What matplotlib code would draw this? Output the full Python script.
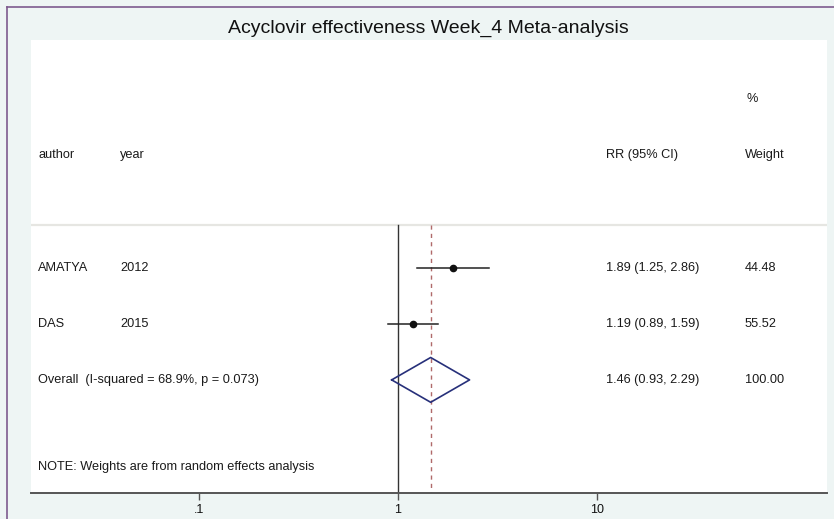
import matplotlib
matplotlib.use("Agg")
import matplotlib.pyplot as plt
from matplotlib.lines import Line2D
from matplotlib.transforms import blended_transform_factory

plt.rcParams['font.family'] = ['Liberation Sans', 'DejaVu Sans']

# ---- data ----
title = "Acyclovir effectiveness Week_4 Meta-analysis"
authors = ["AMATYA", "DAS"]
years = ["2012", "2015"]
rr = [1.89, 1.19]
ci_low = [1.25, 0.89]
ci_high = [2.86, 1.59]
weights = [44.48, 55.52]
overall_label = "Overall  (I-squared = 68.9%, p = 0.073)"
overall_rr = 1.46
overall_low = 0.93
overall_high = 2.29
overall_weight = 100.00
note = "NOTE: Weights are from random effects analysis"
xticks = [0.1, 1, 10]
xticklabels = [".1", "1", "10"]

W, H = 834, 519
fig = plt.figure(figsize=(W / 100, H / 100), dpi=100)
fig.patch.set_facecolor("#eef5f4")

# purple frame lines (top and left)
fig.add_artist(Line2D([7 / W, 1], [1 - 7 / H, 1 - 7 / H], transform=fig.transFigure,
                      color="#7e5b8e", lw=1.2))
fig.add_artist(Line2D([7 / W, 7 / W], [0, 1 - 7 / H], transform=fig.transFigure,
                      color="#7e5b8e", lw=1.2))

# title
fig.text(428 / W, 1 - 28 / H, title, ha="center", va="center", fontsize=14, color="#111111")

# axes: x from px 31 to 827, y from px 40 to 493
ax_left, ax_right, ax_top, ax_bot = 31, 827, 40, 493
ax = fig.add_axes([ax_left / W, 1 - ax_bot / H, (ax_right - ax_left) / W, (ax_bot - ax_top) / H])
ax.set_facecolor("white")
ax.set_xscale("log")
ax.set_xlim(10 ** -1.844, 10 ** 2.156)
row_top, row_bot = -3.07, 5.02
ax.set_ylim(row_bot, row_top)
for s in ["top", "left", "right"]:
    ax.spines[s].set_visible(False)
ax.spines["bottom"].set_color("#555555")
ax.spines["bottom"].set_linewidth(1.4)
ax.set_yticks([])
ax.set_xticks(xticks)
ax.set_xticklabels(xticklabels, fontsize=9, color="#111111")
ax.minorticks_off()
ax.tick_params(axis="x", direction="out", length=5, width=1, color="#555555", pad=3)

# separator line between header and body
ax.axhline(0.23, color="#e6e6e2", lw=1.6, zorder=1)

# reference lines
ax.plot([1, 1], [0.23, row_bot], color="#333333", lw=1.0, zorder=2)
ax.plot([overall_rr, overall_rr], [0.23, row_bot], color="#b06a6a", lw=1.0,
        dashes=(3, 3), zorder=2)

tr = blended_transform_factory(ax.transAxes, ax.transData)
fs = 9.2
tc = "#1a1a1a"
col_author, col_year, col_rr, col_w = 0.009, 0.112, 0.722, 0.897

# header
ax.text(col_author, -1.02, "author", transform=tr, ha="left", va="center", fontsize=fs, color=tc)
ax.text(col_year, -1.02, "year", transform=tr, ha="left", va="center", fontsize=fs, color=tc)
ax.text(col_rr, -1.02, "RR (95% CI)", transform=tr, ha="left", va="center", fontsize=fs, color=tc)
ax.text(col_w, -1.02, "Weight", transform=tr, ha="left", va="center", fontsize=fs, color=tc)
ax.text(col_w + 0.002, -2.02, "%", transform=tr, ha="left", va="center", fontsize=fs, color=tc)

# studies
for i in range(len(authors)):
    r = i + 1
    ax.plot([ci_low[i], ci_high[i]], [r, r], color="#222222", lw=1.1, zorder=3)
    ax.plot([rr[i]], [r], "o", color="#111111", markersize=4.5, zorder=4)
    ax.text(col_author, r, authors[i], transform=tr, ha="left", va="center", fontsize=fs, color=tc)
    ax.text(col_year, r, years[i], transform=tr, ha="left", va="center", fontsize=fs, color=tc)
    ax.text(col_rr, r, f"{rr[i]:.2f} ({ci_low[i]:.2f}, {ci_high[i]:.2f})", transform=tr,
            ha="left", va="center", fontsize=fs, color=tc)
    ax.text(col_w, r, f"{weights[i]:.2f}", transform=tr, ha="left", va="center",
            fontsize=fs, color=tc)

# overall diamond
r = len(authors) + 1
hh = 0.40
ax.plot([overall_low, overall_rr, overall_high, overall_rr, overall_low],
        [r, r - hh, r, r + hh, r], color="#27307a", lw=1.2, zorder=4)
ax.text(col_author, r, overall_label, transform=tr, ha="left", va="center", fontsize=fs, color=tc)
ax.text(col_rr, r, f"{overall_rr:.2f} ({overall_low:.2f}, {overall_high:.2f})", transform=tr,
        ha="left", va="center", fontsize=fs, color=tc)
ax.text(col_w, r, f"{overall_weight:.2f}", transform=tr, ha="left", va="center",
        fontsize=fs, color=tc)

# note
ax.text(col_author, 4.55, note, transform=tr, ha="left", va="center", fontsize=fs, color=tc)

fig.savefig("out.png", dpi=100, facecolor=fig.get_facecolor())
